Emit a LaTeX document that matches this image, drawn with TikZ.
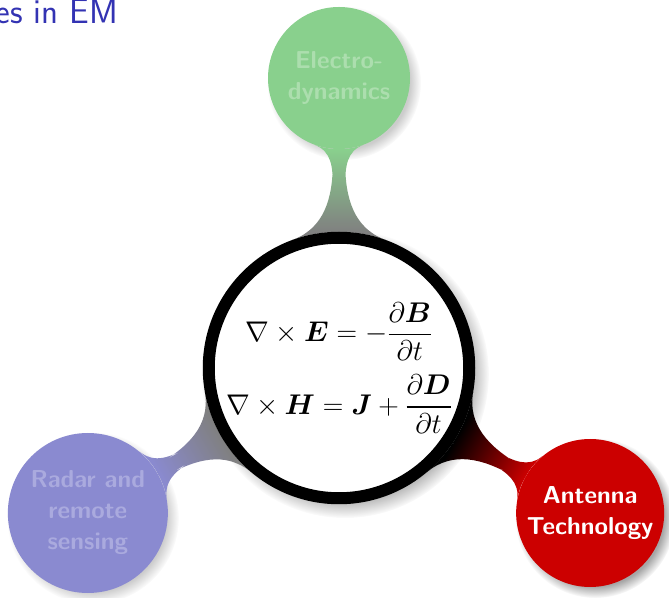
\documentclass[tikz,border=0pt]{standalone}
\usepackage{amsmath,bm}
\usetikzlibrary{mindmap,backgrounds,fadings}
\definecolor{titleblue}{RGB}{51,51,179}
\definecolor{fgreen}{RGB}{137,208,141}
\definecolor{fgreentext}{RGB}{172,222,174}
\definecolor{fblue}{RGB}{138,138,208}
\definecolor{fbluetext}{RGB}{170,170,222}
\definecolor{cred}{RGB}{204,0,0}
\definecolor{fgray}{RGB}{128,128,128}
\newcommand{\eqscale}[1]{\scalebox{1.145}{$\displaystyle #1$}}
\begin{document}
\begin{tikzpicture}[x=1pt,y=1pt,
  rootc/.style={circle, fill=white, draw=black, line width=12pt, minimum size=258pt,
    inner sep=0pt, align=center, font=\fontsize{24.88}{29}\selectfont},
  childc/.style={circle, inner sep=0pt, align=center,
    font=\sffamily\bfseries\fontsize{24.5}{31}\selectfont},
  shadowc/.style={fill=black, opacity=0.35, path fading=circle with fuzzy edge 15 percent}
]
\useasboundingbox (0,0) rectangle (669,597);

\node[anchor=base west, text=titleblue, font=\sffamily\fontsize{35}{40}\selectfont]
  (title) at (-8,573) {es in EM};

\node[rootc] (eq) at (339,229)
  {\eqscale{\nabla\times\bm{E} = -\frac{\partial \bm{B}}{\partial t}}\\[13pt]
   \eqscale{\nabla\times\bm{H} = \bm{J}+\frac{\partial \bm{D}}{\partial t}}};

\node[childc, fill=fgreen, text=fgreentext, minimum size=142pt] (ed)
  at ([shift={(90:290)}]eq.center) {Electro-\\dynamics};
\node[childc, fill=fblue, text=fbluetext, minimum size=160pt] (rs)
  at ([shift={(210:290)}]eq.center) {Radar and\\remote\\sensing};
\node[childc, fill=cred, text=white, minimum size=148pt] (at)
  at ([shift={(330:290)}]eq.center) {Antenna\\Technology};

\begin{pgfonlayer}{background}
  \fill[shadowc] ([shift={(6,-6)}]eq.center) circle (144);
  \fill[shadowc, opacity=0.2] ([shift={(5,-5)}]ed.center) circle (77);
  \fill[shadowc, opacity=0.2] ([shift={(5,-5)}]rs.center) circle (86);
  \fill[shadowc] ([shift={(5,-5)}]at.center) circle (80);
  \path[line width=13pt] (eq) to[circle connection bar switch color=from (fgray) to (fgreen)] (ed);
  \path[line width=13pt] (eq) to[circle connection bar switch color=from (fgray) to (fblue)] (rs);
  \path[line width=13pt] (eq) to[circle connection bar switch color=from (black) to (cred)] (at);
\end{pgfonlayer}
\end{tikzpicture}
\end{document}
